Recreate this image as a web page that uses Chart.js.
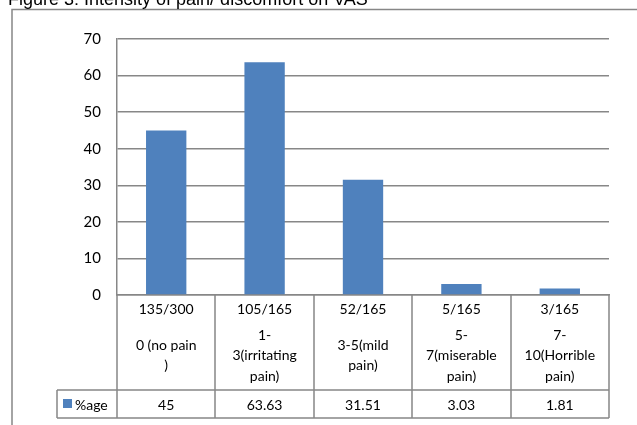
<!DOCTYPE html>
<html>
<head>
<meta charset="utf-8">
<script src="https://cdn.jsdelivr.net/npm/chart.js@4/dist/chart.umd.min.js"></script>
<style>
  html, body { margin: 0; padding: 0; background: #fff; }
  canvas { display: block; }
</style>
</head>
<body>
<canvas id="c" width="637" height="425"></canvas>
<script>
// Figure text and data
const figureTitle = 'Figure 3: Intensity of pain/ discomfort on VAS';
const counts = ['135/300', '105/165', '52/165', '5/165', '3/165'];
const painLevels = [
  ['0 (no pain', ')'],
  ['1-', '3(irritating', 'pain)'],
  ['3-5(mild', 'pain)'],
  ['5-', '7(miserable', 'pain)'],
  ['7-', '10(Horrible', 'pain)']
];
const seriesName = '%age';
const percentages = [45, 63.63, 31.51, 3.03, 1.81];
const valueLabels = ['45', '63.63', '31.51', '3.03', '1.81'];
const yMin = 0, yMax = 70, yStep = 10;

const BAR_BLUE = '#4F81BD';
const LINE_GREY = '#878787';
const TEXT_FONT = '14px Lato, "Liberation Sans", sans-serif';

// Frame, title and the data table under the category axis
const tablePlugin = {
  id: 'dataTable',
  afterDraw(chart) {
    const ctx = chart.ctx;
    const x = chart.scales.x;
    const area = chart.chartArea;
    const n = counts.length;
    const cw = (area.right - area.left) / n;
    const top = area.bottom;
    const row1 = top + 28;
    const row2 = top + 95;
    const row3 = top + 123;
    const legendLeft = 57;

    ctx.save();
    // outer frame (left and top edges)
    ctx.strokeStyle = LINE_GREY;
    ctx.lineWidth = 1.5;
    ctx.beginPath();
    ctx.moveTo(12, 425); ctx.lineTo(12, 9.5); ctx.lineTo(637, 9.5);
    ctx.stroke();

    // title
    ctx.fillStyle = '#000';
    ctx.font = '18px "Liberation Sans", Arial, sans-serif';
    ctx.textAlign = 'left';
    ctx.textBaseline = 'alphabetic';
    ctx.fillText(figureTitle, 8, 5);

    // table grid
    ctx.strokeStyle = LINE_GREY;
    ctx.lineWidth = 1.5;
    ctx.beginPath();
    for (let i = 0; i <= n; i++) {
      const bx = Math.round(x.getPixelForValue(i) - cw / 2);
      ctx.moveTo(bx, top); ctx.lineTo(bx, row3);
    }
    ctx.moveTo(legendLeft, row2); ctx.lineTo(area.right, row2);
    ctx.moveTo(legendLeft, row3); ctx.lineTo(area.right, row3);
    ctx.moveTo(legendLeft, row2); ctx.lineTo(legendLeft, row3);
    ctx.stroke();

    // cell texts
    ctx.fillStyle = '#000';
    ctx.font = TEXT_FONT;
    ctx.textAlign = 'center';
    ctx.textBaseline = 'middle';
    const lh = 20.5;
    const midLevels = (row1 + row2) / 2 - 1;
    for (let i = 0; i < n; i++) {
      const cx = x.getPixelForValue(i);
      ctx.fillText(counts[i], cx, (top + row1) / 2);
      const lines = painLevels[i];
      const y0 = midLevels - (lines.length - 1) * lh / 2;
      lines.forEach((t, k) => ctx.fillText(t, cx, y0 + k * lh));
      ctx.fillText(valueLabels[i], cx, (row2 + row3) / 2 + 1);
    }

    // legend key
    const ly = (row2 + row3) / 2;
    ctx.fillStyle = BAR_BLUE;
    ctx.fillRect(63, ly - 5, 9, 9);
    ctx.fillStyle = '#000';
    ctx.textAlign = 'left';
    ctx.fillText(seriesName, 75, ly + 1);
    ctx.restore();
  }
};

new Chart(document.getElementById('c'), {
  type: 'bar',
  data: {
    labels: counts,
    datasets: [{
      label: seriesName,
      data: percentages,
      backgroundColor: BAR_BLUE,
      borderWidth: 0,
      barPercentage: 0.82,
      categoryPercentage: 0.5
    }]
  },
  options: {
    responsive: false,
    animation: false,
    devicePixelRatio: 1,
    layout: { padding: { top: 39, right: 28, left: 0, bottom: 0 } },
    plugins: { legend: { display: false }, title: { display: false }, tooltip: { enabled: false } },
    scales: {
      x: {
        grid: { display: false },
        border: { display: true, color: LINE_GREY, width: 1.5 },
        ticks: { display: false },
        afterFit(scale) { scale.height = 130; }
      },
      y: {
        min: yMin, max: yMax,
        ticks: { stepSize: yStep, color: '#000', padding: 16, font: { family: 'Lato, "Liberation Sans", sans-serif', size: 15 } },
        grid: { color: LINE_GREY, lineWidth: 1.5, drawTicks: false },
        border: { display: true, color: LINE_GREY, width: 1.5 },
        afterFit(scale) { scale.width = 117; }
      }
    }
  },
  plugins: [tablePlugin]
});
</script>
</body>
</html>
